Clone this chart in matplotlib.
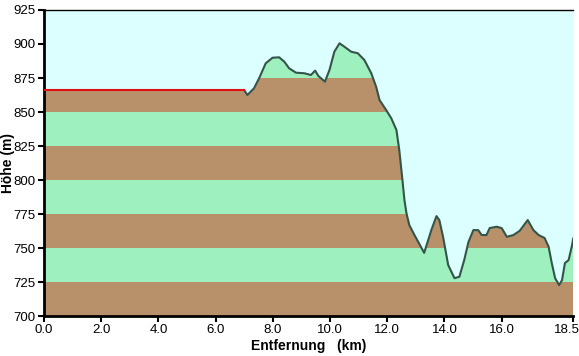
import numpy as np
import matplotlib.pyplot as plt
from matplotlib.transforms import ScaledTranslation

plt.rcParams['font.family'] = ['Liberation Sans', 'DejaVu Sans']

# flat part (drawn red), then the measured profile
flat_km = [0.0, 7.0]
flat_m = [866, 866]

dist_km = [7.0, 7.11, 7.34, 7.52, 7.75, 7.99, 8.22, 8.40, 8.57, 8.81, 9.10, 9.33,
           9.48, 9.59, 9.82, 9.98, 10.15, 10.33, 10.50, 10.74, 10.97, 11.20, 11.44,
           11.61, 11.73, 11.96, 12.14, 12.32, 12.42, 12.53, 12.60, 12.67, 12.77,
           12.95, 13.29, 13.54, 13.72, 13.82, 13.95, 14.13, 14.35, 14.52, 14.69,
           14.84, 15.01, 15.18, 15.30, 15.47, 15.58, 15.82, 16.0, 16.18, 16.41,
           16.63, 16.91, 17.11, 17.29, 17.50, 17.64, 17.75, 17.87, 18.01, 18.11,
           18.21, 18.34, 18.46, 18.5]
elev_m = [866, 862.5, 867.4, 874.8, 885.8, 889.9, 890.2, 887, 882.1, 878.9, 878.5,
          877.2, 880.4, 876.5, 872.3, 880.9, 894.3, 900.5, 898, 894.3, 893.2, 888.2,
          878.5, 868.6, 858.8, 851.5, 845.4, 836.8, 822, 800, 785.3, 775.7, 766.9,
          759.6, 746.5, 763.2, 773.5, 770.6, 758.3, 737.5, 727.9, 728.9, 741.2,
          754.6, 763.2, 763.2, 759.6, 759.6, 764.7, 765.7, 764.7, 758.3, 759.6,
          762.7, 770.6, 763.2, 759.6, 757.4, 751, 739, 727.7, 722.8, 726.5, 739,
          741.2, 752.2, 757.0]

x_ticks = [0, 2, 4, 6, 8, 10, 12, 14, 16, 18.5]
x_labels = ['0.0', '2.0', '4.0', '6.0', '8.0', '10.0', '12.0', '14.0', '16.0', '18.5']
y_ticks = list(range(700, 926, 25))

brown = '#B8916A'
green = '#9EF0BE'
sky = '#DCFFFF'

fig = plt.figure(figsize=(5.79, 3.56), dpi=100)
ax = fig.add_axes([0.076, 0.112, 0.914, 0.86])

# horizontal colour bands, 25 m each
for i, lo in enumerate(range(700, 925, 25)):
    ax.axhspan(lo, lo + 25, color=brown if i % 2 == 0 else green, lw=0, zorder=0)

# sky above the profile
all_x = np.concatenate([flat_km, dist_km[1:]])
all_y = np.concatenate([flat_m, elev_m[1:]])
ax.fill_between(all_x, all_y, 925, color=sky, lw=0, zorder=1)

ax.plot(dist_km, elev_m, color='#34544A', lw=1.5, zorder=3)
ax.plot(flat_km, flat_m, color='#E01010', lw=1.5, zorder=3)

ax.set_xlim(0, 18.5)
ax.set_ylim(700, 925)
ax.set_xticks(x_ticks)
ax.set_xticklabels(x_labels)
ax.set_yticks(y_ticks)
ax.tick_params(labelsize=9.5, length=4, width=1.5, direction='out', pad=2)

# last x label pulled left so it stays inside the figure
last = ax.get_xticklabels()[-1]
last.set_transform(last.get_transform() + ScaledTranslation(-6 / 100, 0, fig.dpi_scale_trans))

for side in ['left', 'bottom']:
    ax.spines[side].set_linewidth(2)
ax.spines['top'].set_linewidth(1)
ax.spines['right'].set_visible(False)

ax.set_xlabel('Entfernung   (km)', fontsize=10, fontweight='bold', labelpad=2)
ax.set_ylabel('Höhe (m)', fontsize=10, fontweight='bold', va='center')
ax.yaxis.set_label_coords(-0.068, 0.5)

fig.savefig('out.png', dpi=100)
